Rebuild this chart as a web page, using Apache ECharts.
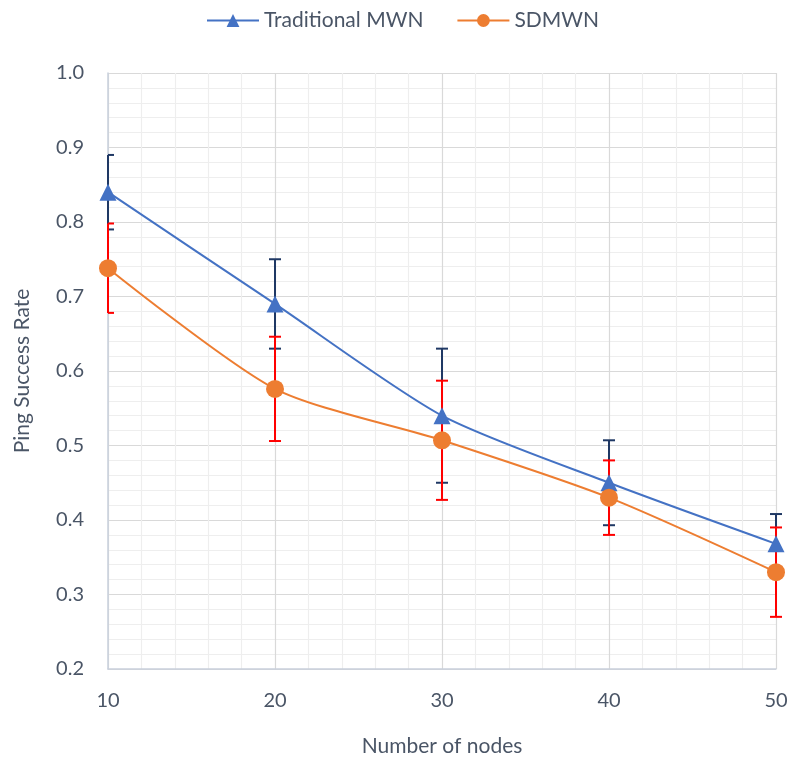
<!DOCTYPE html>
<html>
<head>
<meta charset="utf-8">
<script src="https://cdn.jsdelivr.net/npm/echarts@6/dist/echarts.min.js"></script>
<style>
  html, body { margin: 0; padding: 0; background: #fff; }
  #chart { width: 789px; height: 759px; }
</style>
</head>
<body>
<div id="chart"></div>
<script>
// Node counts on the x axis
const nodes = [10, 20, 30, 40, 50];
// Mean ping success rate per network type
const traditional = [0.84, 0.69, 0.54, 0.45, 0.368];
const sdmwn = [0.738, 0.576, 0.507, 0.43, 0.33];
// Error bar half-widths
const traditionalErr = [0.05, 0.06, 0.09, 0.057, 0.04];
const sdmwnErr = [0.06, 0.07, 0.08, 0.05, 0.06];

const fontFamily = 'Lato, "Open Sans", sans-serif';
const textColor = '#4a5566';

function errorData(means, errs) {
  return nodes.map((x, i) => [x, means[i] - errs[i], means[i] + errs[i]]);
}

// Vertical whisker with caps; caps are trimmed at the plot's left edge
function errorBar(color) {
  return function (params, api) {
    const x = api.value(0);
    const lo = api.coord([x, api.value(1)]);
    const hi = api.coord([x, api.value(2)]);
    const half = 6;
    const left = Math.max(lo[0] - half, params.coordSys.x);
    const style = { stroke: color, lineWidth: 2 };
    return {
      type: 'group',
      children: [
        { type: 'line', shape: { x1: lo[0], y1: lo[1], x2: hi[0], y2: hi[1] }, style },
        { type: 'line', shape: { x1: left, y1: hi[1], x2: hi[0] + half, y2: hi[1] }, style },
        { type: 'line', shape: { x1: left, y1: lo[1], x2: lo[0] + half, y2: lo[1] }, style }
      ]
    };
  };
}

const chart = echarts.init(document.getElementById('chart'));
chart.setOption({
  animation: false,
  backgroundColor: '#ffffff',
  textStyle: { fontFamily },
  legend: {
    top: 10,
    left: 206,
    padding: 0,
    itemWidth: 52,
    itemHeight: 16,
    itemGap: 33,
    textStyle: { fontSize: 21, color: textColor, fontFamily },
    data: ['Traditional MWN', 'SDMWN']
  },
  grid: { left: 108, right: 13, top: 73, bottom: 90, containLabel: false, outerBoundsMode: 'none' },
  xAxis: {
    type: 'value',
    min: 10, max: 50, interval: 10,
    name: 'Number of nodes',
    nameLocation: 'middle',
    nameGap: 67,
    nameTextStyle: { fontSize: 21, color: textColor, fontFamily },
    axisLine: { show: true, lineStyle: { color: '#c9d0dc', width: 1.5 } },
    axisTick: { show: false },
    axisLabel: { fontSize: 20, color: textColor, margin: 22, fontFamily },
    splitLine: { show: true, lineStyle: { color: '#d9d9d9', width: 1.2 } },
    minorTick: { show: false, splitNumber: 5 },
    minorSplitLine: { show: true, lineStyle: { color: '#eeeeee', width: 1.2 } }
  },
  yAxis: {
    type: 'value',
    min: 0.2, max: 1.0, interval: 0.1,
    name: 'Ping Success Rate',
    nameLocation: 'middle',
    nameGap: 75,
    nameRotate: 90,
    nameTextStyle: { fontSize: 21, color: textColor, fontFamily },
    axisLine: { show: true, lineStyle: { color: '#c9d0dc', width: 1.5 } },
    axisTick: { show: false },
    axisLabel: { fontSize: 20, color: textColor, margin: 24, fontFamily,
      formatter: v => v.toFixed(1) },
    splitLine: { show: true, lineStyle: { color: '#d9d9d9', width: 1.2 } },
    minorTick: { show: false, splitNumber: 5 },
    minorSplitLine: { show: true, lineStyle: { color: '#eeeeee', width: 1.2 } }
  },
  series: [
    {
      name: 'Traditional MWN',
      type: 'line',
      data: nodes.map((x, i) => [x, traditional[i]]),
      smooth: 0.25,
      symbol: 'triangle',
      symbolSize: 17,
      z: 5,
      itemStyle: { color: '#4472c4' },
      lineStyle: { color: '#4472c4', width: 2 }
    },
    {
      name: 'SDMWN',
      type: 'line',
      data: nodes.map((x, i) => [x, sdmwn[i]]),
      smooth: 0.25,
      symbol: 'circle',
      symbolSize: 18,
      z: 6,
      itemStyle: { color: '#ed7d31' },
      lineStyle: { color: '#ed7d31', width: 2 }
    },
    {
      type: 'custom',
      name: 'Traditional error',
      data: errorData(traditional, traditionalErr),
      renderItem: errorBar('#1f3864'),
      clip: false,
      z: 3,
      encode: { x: 0, y: [1, 2] },
      silent: true
    },
    {
      type: 'custom',
      name: 'SDMWN error',
      data: errorData(sdmwn, sdmwnErr),
      renderItem: errorBar('#ff0000'),
      clip: false,
      z: 4,
      encode: { x: 0, y: [1, 2] },
      silent: true
    }
  ]
});
</script>
</body>
</html>
